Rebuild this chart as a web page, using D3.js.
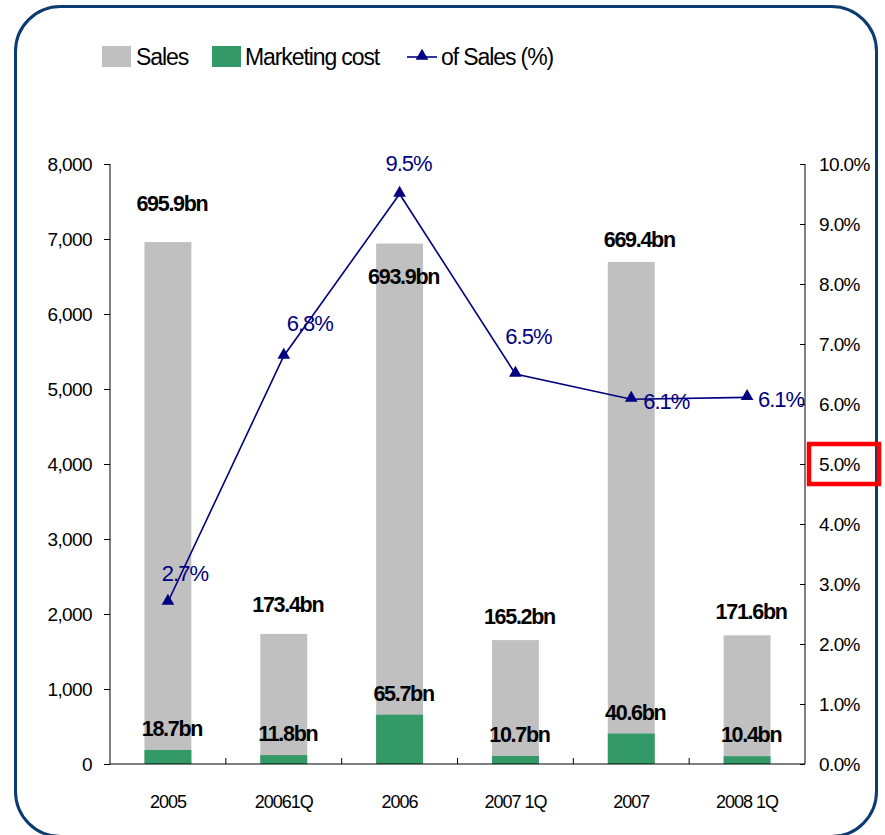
<!DOCTYPE html>
<html><head><meta charset="utf-8">
<script src="https://cdn.jsdelivr.net/npm/d3@7/dist/d3.min.js"></script>
<style>
html,body{margin:0;padding:0;background:#fff;}
text{font-family:"Liberation Sans",Arial,sans-serif;}
</style></head>
<body><svg id="c" width="885" height="835"></svg>
<script>
const categories = ["2005","20061Q","2006","2007 1Q","2007","2008 1Q"];
const sales = [6959, 1734, 6939, 1652, 6694, 1716];
const marketing = [187, 118, 657, 107, 406, 104];
const pct = [2.7, 6.8, 9.5, 6.5, 6.08, 6.11];
const salesLabels = ["695.9bn","173.4bn","693.9bn","165.2bn","669.4bn","171.6bn"];
const marketingLabels = ["18.7bn","11.8bn","65.7bn","10.7bn","40.6bn","10.4bn"];
const pctLabels = ["2.7%","6.8%","9.5%","6.5%","6.1%","6.1%"];
const leftTicks = [0,1000,2000,3000,4000,5000,6000,7000,8000];
const rightTicks = [0,1,2,3,4,5,6,7,8,9,10];
const legendLabels = ["Sales","Marketing cost","of Sales (%)"];

const svg = d3.select("#c");
const L = 110, R = 805, T = 164, B = 764;
const x = d3.scaleBand().domain(categories).range([L, R]).padding(0);
const y = d3.scaleLinear().domain([0, 8000]).range([B, T]);
const y2 = d3.scaleLinear().domain([0, 10]).range([B, T]);
const bw = x.bandwidth() * 0.405;
const cx = d => x(d) + x.bandwidth() / 2;

// frame
svg.append("rect").attr("x", 15.5).attr("y", 6.5).attr("width", 861).attr("height", 830)
  .attr("rx", 45).attr("ry", 45).attr("fill", "none").attr("stroke", "#0b3b70").attr("stroke-width", 3);

// bars
svg.append("g").selectAll("rect").data(categories).join("rect")
  .attr("x", d => cx(d) - bw / 2).attr("width", bw)
  .attr("y", (d, i) => y(sales[i])).attr("height", (d, i) => B - y(sales[i]))
  .attr("fill", "#c0c0c0");
svg.append("g").selectAll("rect").data(categories).join("rect")
  .attr("x", d => cx(d) - bw / 2).attr("width", bw)
  .attr("y", (d, i) => y(marketing[i])).attr("height", (d, i) => B - y(marketing[i]))
  .attr("fill", "#339966");

// axes
const gl = svg.append("g").attr("transform", `translate(${L},0)`)
  .call(d3.axisLeft(y).tickValues(leftTicks).tickFormat(d3.format(",")).tickSize(6).tickPadding(12));
const gr = svg.append("g").attr("transform", `translate(${R},0)`)
  .call(d3.axisRight(y2).tickValues(rightTicks).tickFormat(d => d.toFixed(1) + "%").tickSize(-5).tickPadding(14));
[gl, gr].forEach(g => {
  g.select(".domain").attr("stroke", "#000").attr("d", `M0,${T}V${B}`);
  g.selectAll(".tick line").attr("stroke", "#000");
  g.selectAll(".tick text").attr("font-size", 19).attr("letter-spacing", -0.6).attr("fill", "#000")
    .attr("font-family", "Liberation Sans, Arial, sans-serif");
});
// x axis
svg.append("line").attr("x1", L).attr("x2", R).attr("y1", B).attr("y2", B).attr("stroke", "#000");
svg.append("g").selectAll("line").data(categories.slice(1)).join("line")
  .attr("x1", d => x(d)).attr("x2", d => x(d)).attr("y1", B).attr("y2", B - 6).attr("stroke", "#000");
svg.append("g").selectAll("text").data(categories).join("text")
  .attr("x", d => cx(d)).attr("y", 808).attr("text-anchor", "middle")
  .attr("font-size", 18).attr("letter-spacing", -1).text(d => d);

// line
const line = d3.line().x((d, i) => cx(categories[i])).y(d => y2(d));
svg.append("path").datum(pct).attr("d", line).attr("fill", "none").attr("stroke", "#000080").attr("stroke-width", 1.6);
const tri = d3.symbol().type(d3.symbolTriangle).size(70);
svg.append("g").selectAll("path").data(pct).join("path")
  .attr("d", tri).attr("transform", (d, i) => `translate(${cx(categories[i])},${y2(d) - 1})`).attr("fill", "#000080");

// labels
const salesOff = [-31, -22, 40, -16, -15, -16];
svg.append("g").selectAll("text").data(sales).join("text")
  .attr("x", (d, i) => cx(categories[i]) + 4 + (i === 4 ? 4 : 0)).attr("y", (d, i) => y(d) + salesOff[i])
  .attr("text-anchor", "middle").attr("font-size", 21.5).attr("font-weight", "bold").attr("letter-spacing", -1.3)
  .attr("fill", "#000").text((d, i) => salesLabels[i]);
svg.append("g").selectAll("text").data(marketing).join("text")
  .attr("x", (d, i) => cx(categories[i]) + 4).attr("y", (d, i) => y(d) - 14)
  .attr("text-anchor", "middle").attr("font-size", 21.5).attr("font-weight", "bold").attr("letter-spacing", -1.3)
  .attr("fill", "#000").text((d, i) => marketingLabels[i]);
const pctOff = [[17, -21], [26, -25], [9, -23], [13, -30], [35, 10], [34, 10]];
svg.append("g").selectAll("text").data(pct).join("text")
  .attr("x", (d, i) => cx(categories[i]) + pctOff[i][0]).attr("y", (d, i) => y2(d) + pctOff[i][1])
  .attr("text-anchor", "middle").attr("font-size", 22).attr("fill", "#000080").attr("letter-spacing", -1)
  .text((d, i) => pctLabels[i]);

// legend
const lg = svg.append("g");
lg.append("rect").attr("x", 102).attr("y", 46).attr("width", 29).attr("height", 21).attr("fill", "#c0c0c0");
lg.append("text").attr("x", 136).attr("y", 65).text(legendLabels[0]);
lg.append("rect").attr("x", 212).attr("y", 46).attr("width", 29).attr("height", 21).attr("fill", "#339966");
lg.append("text").attr("x", 245).attr("y", 65).text(legendLabels[1]);
lg.append("line").attr("x1", 407).attr("x2", 437).attr("y1", 57).attr("y2", 57).attr("stroke", "#000080").attr("stroke-width", 1.6);
lg.append("path").attr("d", tri).attr("transform", "translate(422,56)").attr("fill", "#000080");
lg.append("text").attr("x", 441).attr("y", 65).text(legendLabels[2]);
lg.selectAll("text").attr("font-size", 23).attr("letter-spacing", -1.1).attr("fill", "#000");

// highlight box
svg.append("rect").attr("x", 809).attr("y", 444).attr("width", 70).attr("height", 40)
  .attr("fill", "none").attr("stroke", "#ff0000").attr("stroke-width", 4.5);
</script></body></html>
